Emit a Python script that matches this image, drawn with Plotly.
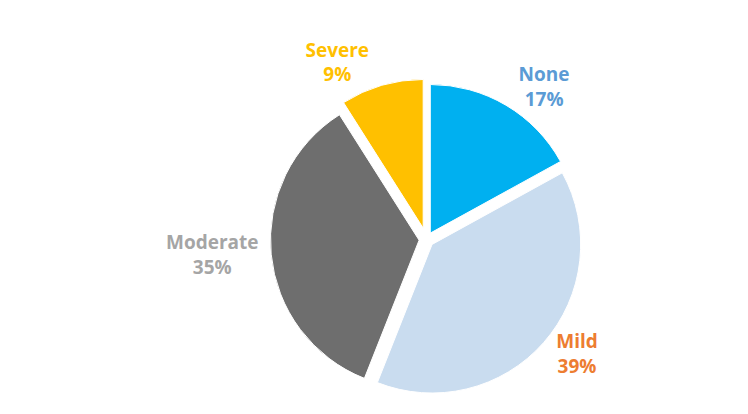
import plotly.graph_objects as go

categories = ["None", "Mild", "Moderate", "Severe"]
values = [17, 39, 35, 9]
slice_colors = ["#00B0F0", "#C9DCEF", "#6E6E6E", "#FFC000"]
label_colors = ["#5B9BD5", "#ED7D31", "#A5A5A5", "#FFC000"]

fig = go.Figure(go.Pie(
    labels=categories,
    values=values,
    sort=False,
    direction="clockwise",
    rotation=0,
    pull=[0.05, 0.05, 0.05, 0.08],
    marker=dict(colors=slice_colors, line=dict(color="#FFFFFF", width=1)),
    texttemplate="<b>%{label}<br>%{percent:.0%}</b>",
    textposition="outside",
    textfont=dict(family="Open Sans", size=19, color=label_colors),
    outsidetextfont=dict(family="Open Sans", size=19, color=label_colors),
    showlegend=False,
    hoverinfo="label+percent",
))

fig.update_layout(
    width=748, height=414,
    margin=dict(l=90, r=30, t=20, b=5),
    paper_bgcolor="white",
    plot_bgcolor="white",
    font=dict(family="Open Sans"),
)

fig.write_html("out.html")
